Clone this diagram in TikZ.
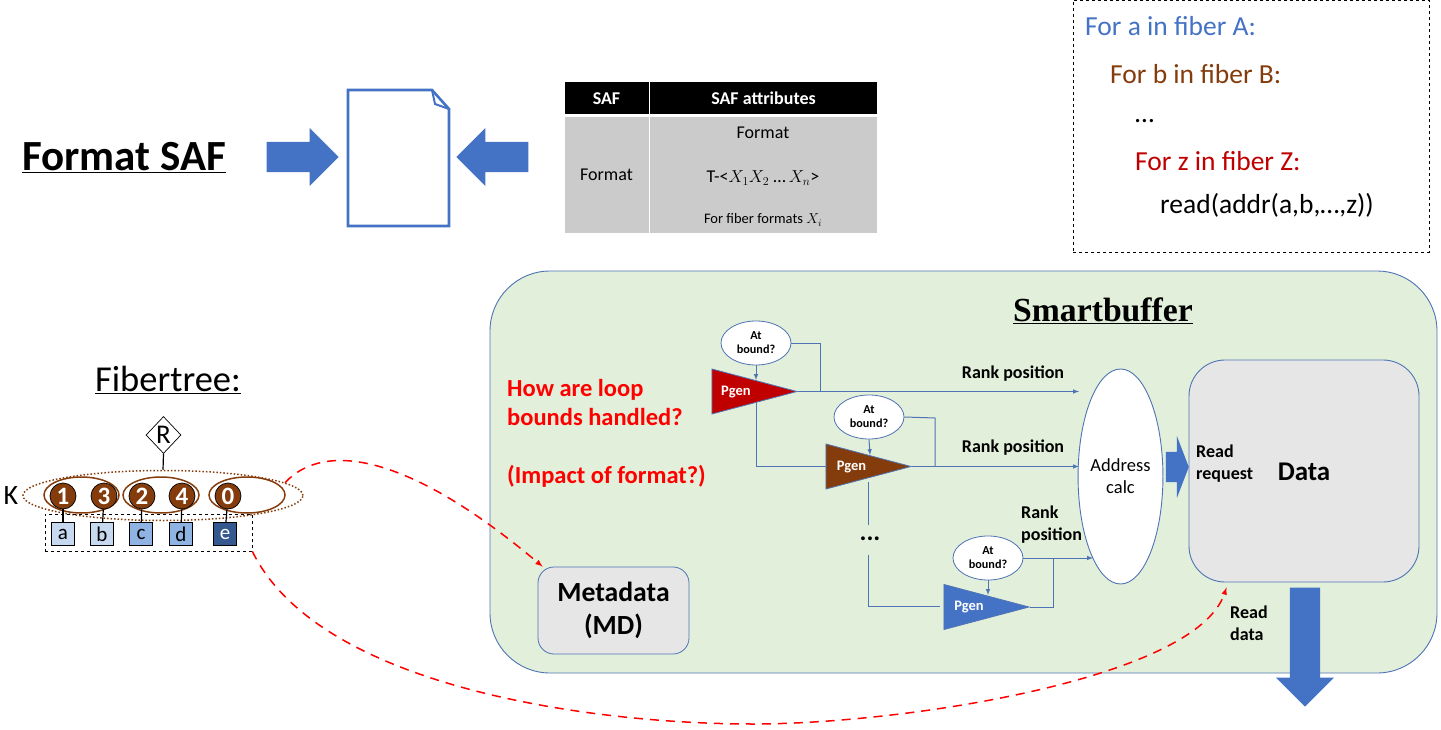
\documentclass[tikz,border=0pt]{standalone}
\usepackage{fontspec}
\setmainfont{Carlito}
\newfontfamily\serifbold{Liberation Serif}
\usetikzlibrary{shapes.geometric,shapes.arrows}
\definecolor{saxblue}{HTML}{4472C4}
\definecolor{rustbrown}{HTML}{843C0C}
\definecolor{darkred}{HTML}{C00000}
\definecolor{linkblue}{HTML}{4F74B5}
\definecolor{paleblue}{HTML}{C6D9F1}
\definecolor{midblue}{HTML}{8FB4E3}
\definecolor{deepblue}{HTML}{35598F}
\definecolor{sheetgreen}{HTML}{E2EFDA}
\definecolor{panelgray}{HTML}{E7E6E6}
\definecolor{tablegray}{HTML}{CBCBCB}
\newcommand{\fsz}[2]{\fontsize{#1}{#2}\selectfont}
\begin{document}
\begin{tikzpicture}[x=1pt,y=-1pt,
    fat/.style={single arrow, fill=saxblue, inner xsep=0pt, inner ysep=15pt, single arrow head extend=14pt, minimum height=72pt},
    gen/.style={isosceles triangle, isosceles triangle stretches, draw=linkblue, line width=0.8pt, inner sep=0pt, minimum height=85pt, minimum width=45pt, anchor=apex},
    genText/.style={text=white, font=\fsz{14.5}{16}\bfseries},
    atb/.style={ellipse, draw=linkblue, fill=white, line width=0.8pt, inner sep=0pt, minimum width=70pt, minimum height=44pt, align=center, font=\fsz{12.2}{14}\bfseries},
    flow/.style={draw=linkblue, line width=1pt},
    tip/.style={flow, -latex},
    rank/.style={inner sep=0pt, align=left, font=\fsz{18}{22}\bfseries},
    fib/.style={ellipse, draw=rustbrown, line width=1.5pt, inner sep=0pt, minimum height=36pt},
    num/.style={circle, fill=rustbrown, draw=black, line width=0.7pt, inner sep=0pt, minimum size=26pt, text=white, font=\fsz{25}{26}\bfseries},
    leaf/.style={rectangle, draw=black, line width=1.2pt, inner sep=0pt, minimum size=23pt, font=\fsz{21}{22}},
    head/.style={rectangle, fill=black, text=white, inner sep=0pt, minimum height=32pt, font=\fsz{18}{20}\bfseries},
    cell/.style={rectangle, fill=tablegray, inner sep=0pt, minimum height=116pt, font=\fsz{18}{20}},
    loopline/.style={anchor=west, inner sep=0pt, font=\fsz{27.5}{30}},
    ques/.style={anchor=west, inner sep=0pt, align=left, text=red, font=\fsz{24.5}{29}\bfseries},
    reddash/.style={draw=red, line width=1.5pt, dash pattern=on 9pt off 7pt, -latex}
]
    \useasboundingbox (0,0) rectangle (1441,730);

    % Format SAF
    \node (title) at (124,158) {\fsz{43}{46}\bfseries\underline{Format SAF}};
    \node[fat, anchor=tip] (arrowL) at (339,157) {};
    \node[fat, anchor=tip, shape border rotate=180] (arrowR) at (456,157) {};
    \draw[saxblue, line width=2.6pt, line join=miter] (348,90) -- (432,90) -- (449,109) -- (449,226) -- (348,226) -- cycle;
    \draw[saxblue, line width=2pt] (432,90) -- (435,104) -- (449,109);

    % Table
    \node[head, minimum width=84pt] (hSaf) at (606.5,98.5) {SAF};
    \node[head, minimum width=227pt] (hAttr) at (763.5,98.5) {SAF attributes};
    \node[cell, minimum width=84pt] (cSaf) at (606.5,175) {Format};
    \node[cell, minimum width=227pt] (cAttr) at (763.5,175) {};
    \node[font=\fsz{18}{20}] (attrA) at (763,133) {Format};
    \node[font=\fsz{18}{20}] (attrB) at (763,178) {T-<$X_1X_2$ \dots\,$X_n$>};
    \node[font=\fsz{14.5}{16}] (attrC) at (763,220) {For fiber formats $X_i$};

    % Pseudo code
    \node[draw=black, dashed, line width=0.7pt, inner sep=0pt, minimum width=356pt, minimum height=252pt] (codeBox) at (1251,126) {};
    \node[loopline, text=saxblue] (lineA) at (1085,26) {For a in fiber A:};
    \node[loopline, text=rustbrown] (lineB) at (1110,74) {For b in fiber B:};
    \node[loopline] (lineC) at (1135,121) {\dots};
    \node[loopline, text=darkred] (lineD) at (1135,161) {For z in fiber Z:};
    \node[loopline] (lineE) at (1160,205) {read(addr(a,b,\dots,z))};

    % Smartbuffer
    \node[draw=linkblue, fill=sheetgreen, line width=0.9pt, rounded corners=60pt, inner sep=0pt, minimum width=947pt, minimum height=402pt] (sheet) at (963.5,472) {};
    \node (sbTitle) at (1103,311) {\fsz{33.7}{36}\serifbold\bfseries\underline{Smartbuffer}};
    \node[ques] (quesA) at (507,402) {How are loop\\bounds handled?};
    \node[ques] (quesB) at (507,476) {(Impact of format?)};
    \node[draw=linkblue, fill=panelgray, line width=0.8pt, rounded corners=16pt, inner sep=0pt, minimum width=151pt, minimum height=87pt, align=center, font=\fsz{27.7}{33}\bfseries] (meta) at (613.5,610.5) {Metadata\\(MD)};
    \node[draw=linkblue, fill=panelgray, line width=0.9pt, rounded corners=36pt, inner sep=0pt, minimum width=230pt, minimum height=222pt] (data) at (1304,471) {};
    \node[font=\fsz{27}{30}\bfseries] (dataText) at (1304,472) {Data};
    \node[rank, anchor=west] (readReq) at (1196,464) {Read\\request};
    \node[rank, anchor=west] (readData) at (1230,623) {Read\\data};
    \node[ellipse, draw=linkblue, fill=white, line width=0.9pt, inner sep=0pt, minimum width=83pt, minimum height=215pt, align=center, font=\fsz{18.5}{22}] (addr) at (1120.5,476.5) {Address\\calc};
    \node[fat, anchor=tip, minimum height=23pt, single arrow head extend=16pt, single arrow tip angle=138] (arrowReq) at (1189,467) {};
    \node[fat, anchor=tip, minimum height=119pt, rotate=-90] (arrowOut) at (1305,707) {};

    % Pgen chain
    \node[atb] (atA) at (756,343) {At\\bound?};
    \node[atb] (atB) at (869,417) {At\\bound?};
    \node[atb] (atC) at (988,558) {At\\bound?};
    \node[gen, fill=darkred] (pgenA) at (798,391.5) {};
    \node[gen, fill=rustbrown] (pgenB) at (912,466.5) {};
    \node[gen, fill=saxblue] (pgenC) at (1030,607) {};
    \node[genText] (textA) at (736,392.5) {Pgen};
    \node[genText] (textB) at (851.5,467.5) {Pgen};
    \node[genText] (textC) at (969,607.5) {Pgen};
    \node[font=\fsz{26}{28}\bfseries] (dots) at (870,539) {...};
    \node[rank] (rankA) at (1013,374) {Rank position};
    \node[rank] (rankB) at (1013,448) {Rank position};
    \node[rank, anchor=west] (rankC) at (1021,525) {Rank\\position};
    \coordinate (hitA) at (1079,391.5);
    \coordinate (hitB) at (1079,466.5);
    \coordinate (hitC) at (1093,558);
    \coordinate (topA) at (756,380);
    \coordinate (topB) at (870,455);
    \coordinate (topC) at (988,595);
    \coordinate (lowA) at (756,403);
    \coordinate (lowB) at (868.5,482);
    \coordinate (gapT) at (868.5,525);
    \coordinate (gapB) at (868.5,555);

    \draw[tip] (atA.south) -- (topA);
    \draw[tip] (atB.south) -- (topB);
    \draw[tip] (atC.south) -- (topC);
    \draw[flow] (atA.east) -- (820,343) -- (820,391.5) -- (pgenA.apex);
    \draw[tip] (pgenA.apex) -- (hitA);
    \draw[flow] (atB.east) -- (935,418) -- (935,466.5);
    \draw[tip] (pgenB.apex) -- (hitB);
    \draw[tip] (atC.east) -- (hitC);
    \draw[flow] (pgenC.apex) -- (1053,607) -- (1053,558);
    \draw[flow] (lowA) -- (756,466.5) -- (827,466.5);
    \draw[flow] (lowB) -- (gapT);
    \draw[flow] (gapB) -- (868.5,606.5) -- (940,606.5);

    % Fibertree
    \node (treeTitle) at (168,380) {\fsz{36.5}{40}\underline{Fibertree:}};
    \node[diamond, draw=black, line width=0.7pt, inner sep=0pt, minimum width=35pt, minimum height=37pt, font=\fsz{27}{28}] (root) at (163.5,435) {R};
    \node[ellipse, draw=rustbrown, dotted, line width=1.5pt, inner sep=0pt, minimum width=280pt, minimum height=50pt] (rankK) at (163,495.5) {};
    \node[fib, minimum width=75pt] (fibA) at (81.5,495) {};
    \node[fib, minimum width=76pt] (fibB) at (161,495) {};
    \node[fib, minimum width=76pt] (fibC) at (247,495) {};
    \node[font=\fsz{28}{30}] (kLabel) at (11,496) {K};
    \node[draw=black, dashed, line width=0.7pt, inner sep=0pt, minimum width=207pt, minimum height=37pt] (leafBox) at (148.5,532.5) {};
    \foreach \name/\val/\xn/\xl/\shade/\ink in {a/1/63/63/paleblue/black, b/3/104/102/paleblue/black, c/2/142/141/midblue/black, d/4/182/181/midblue/black, e/0/228/225/deepblue/white} {
        \node[leaf, fill=\shade, text=\ink] (leaf\name) at (\xl,534) {\name};
        \node[num] (num\name) at (\xn,496) {\val};
        \draw[black, line width=1.2pt] (num\name) -- (leaf\name);
    }
    \draw[black, line width=1.2pt] (root.south) -- (rankK.north);

    % Red links
    \draw[reddash] (rankK.6) .. controls (325,440) and (410,455) .. ([xshift=5pt]meta.north west);
    \draw[reddash] (leafBox.south east) .. controls (320,690) and (600,724) .. (753,724) .. controls (900,724) and (1195,680) .. ([xshift=38pt,yshift=-5pt]data.south west);
\end{tikzpicture}
\end{document}
